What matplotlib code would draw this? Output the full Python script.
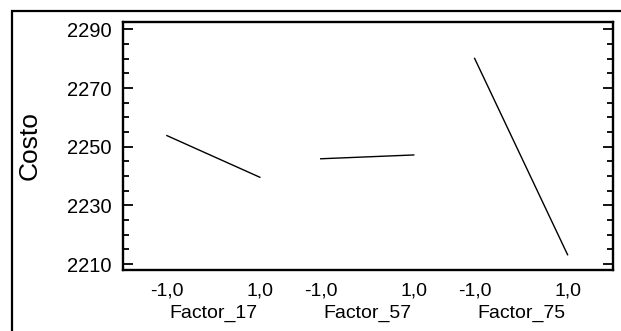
import matplotlib
matplotlib.use("Agg")
import matplotlib.pyplot as plt
from matplotlib.patches import Rectangle
from matplotlib.ticker import MultipleLocator, FixedLocator

plt.rcParams["font.family"] = ["Liberation Sans", "DejaVu Sans"]

# Main effects plot for Costo
factors   = ["Factor_17", "Factor_57", "Factor_75"]
levels    = [-1.0, 1.0]
low_vals  = [2253.8, 2245.9, 2280.1]   # response at level -1
high_vals = [2239.6, 2247.2, 2213.2]   # response at level +1
level_labels = ["-1,0", "1,0"]
y_ticks = [2210, 2230, 2250, 2270, 2290]

panel_step = 3.31

fig = plt.figure(figsize=(6.21, 3.31), dpi=100)
ax = fig.add_axes([0.1976, 0.1843, 0.789, 0.7492])

# outer frame (only top/left visible, rest runs off the image)
fig.patches.append(Rectangle((12 / 621, -0.5), 1.5, 0.5 + 1 - 11 / 331,
                             transform=fig.transFigure, fill=False,
                             edgecolor="black", linewidth=1.6, clip_on=False))

xt, xl = [], []
for i, name in enumerate(factors):
    off = i * panel_step
    xs = [lv + off for lv in levels]
    ax.plot(xs, [low_vals[i], high_vals[i]], color="black", lw=1.0)
    xt += xs
    xl += level_labels
    ax.annotate(name, xy=(off, 0), xycoords=("data", "axes fraction"),
                xytext=(0, -25), textcoords="offset points",
                ha="center", va="top", fontsize=14)

ax.set_xlim(-1.95, 2 * panel_step + 1.97)
ax.set_ylim(2208.0, 2292.5)

ax.xaxis.set_major_locator(FixedLocator(xt))
ax.set_xticklabels(xl)
ax.tick_params(axis="x", length=0, pad=9, labelsize=14)

ax.yaxis.set_major_locator(FixedLocator(y_ticks))
ax.yaxis.set_minor_locator(MultipleLocator(5))
ax.tick_params(axis="y", which="both", direction="in", left=True, right=True,
               labelsize=14.5, pad=8, width=1.3)
ax.tick_params(axis="y", which="major", length=7.5)
ax.tick_params(axis="y", which="minor", length=4)

for sp in ax.spines.values():
    sp.set_linewidth(1.7)

ax.set_ylabel("Costo", fontsize=19, labelpad=18)

fig.savefig("out.png", dpi=100)
